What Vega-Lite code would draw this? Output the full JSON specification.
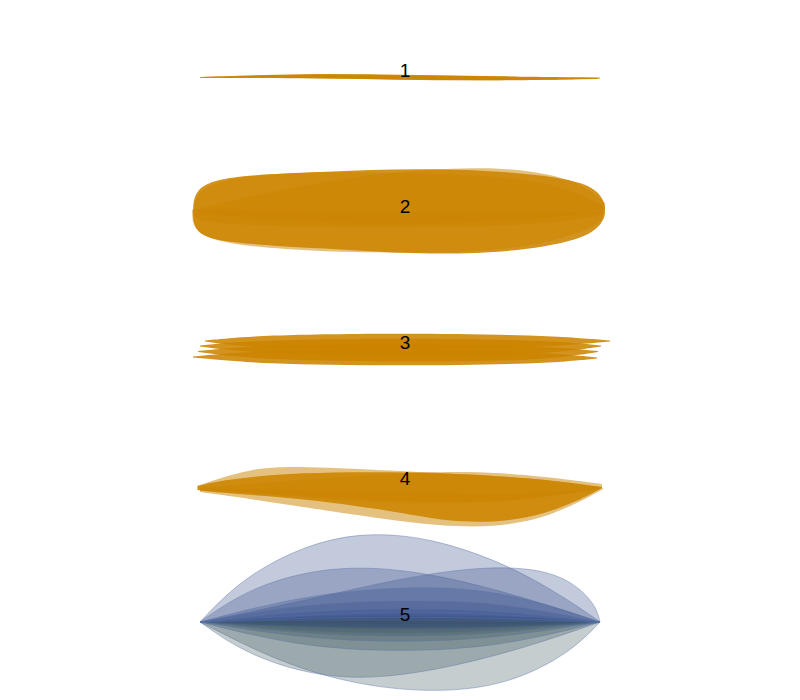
{
  "$schema": "https://vega.github.io/schema/vega-lite/v6.json",
  "autosize": {"type": "fit", "contains": "padding"},
  "width": 800,
  "height": 700,
  "padding": 0,
  "background": "white",
  "config": {"view": {"stroke": null}},
  "datasets": {
    "halo": [
      {"s": "2b", "x": -6, "t": 210, "b": 214},
      {"s": "2b", "x": -4, "t": 186, "b": 222},
      {"s": "2b", "x": 60, "t": 172, "b": 226},
      {"s": "2b", "x": 200, "t": 172, "b": 228},
      {"s": "2b", "x": 350, "t": 178, "b": 225},
      {"s": "2b", "x": 403, "t": 206, "b": 214},
      {"s": "2c", "x": 0, "t": 208, "b": 214},
      {"s": "2c", "x": 150, "t": 174, "b": 225},
      {"s": "2c", "x": 300, "t": 164, "b": 222},
      {"s": "2c", "x": 380, "t": 180, "b": 215},
      {"s": "2c", "x": 405, "t": 203, "b": 210},
      {"s": "2d", "x": -8, "t": 210, "b": 212},
      {"s": "2d", "x": -6, "t": 208, "b": 240},
      {"s": "2d", "x": 80, "t": 212, "b": 250},
      {"s": "2d", "x": 200, "t": 212, "b": 254},
      {"s": "2d", "x": 330, "t": 214, "b": 250},
      {"s": "2d", "x": 400, "t": 212, "b": 226},
      {"s": "2d", "x": 403, "t": 211, "b": 216},
      {"s": "4b", "x": -3, "t": 486, "b": 490},
      {"s": "4b", "x": 50, "t": 468, "b": 492},
      {"s": "4b", "x": 100, "t": 466, "b": 497},
      {"s": "4b", "x": 200, "t": 471, "b": 505},
      {"s": "4b", "x": 330, "t": 477, "b": 500},
      {"s": "4b", "x": 400, "t": 487, "b": 489},
      {"s": "4c", "x": 0, "t": 489, "b": 492},
      {"s": "4c", "x": 100, "t": 490, "b": 506},
      {"s": "4c", "x": 250, "t": 494, "b": 530},
      {"s": "4c", "x": 330, "t": 495, "b": 524},
      {"s": "4c", "x": 380, "t": 490, "b": 502},
      {"s": "4c", "x": 403, "t": 488, "b": 489},
      {"s": "4d", "x": 0, "t": 488, "b": 491},
      {"s": "4d", "x": 200, "t": 472, "b": 500},
      {"s": "4d", "x": 300, "t": 471, "b": 505},
      {"s": "4d", "x": 402, "t": 484, "b": 488}
    ],
    "core": [
      {"s": "1a", "x": 0, "t": 77, "b": 78},
      {"s": "1a", "x": 100, "t": 73.5, "b": 78},
      {"s": "1a", "x": 200, "t": 74.5, "b": 79.5},
      {"s": "1a", "x": 300, "t": 76.5, "b": 81},
      {"s": "1a", "x": 400, "t": 77.5, "b": 78.5},
      {"s": "1b", "x": 2, "t": 77, "b": 77.8},
      {"s": "1b", "x": 100, "t": 74.5, "b": 77.5},
      {"s": "1b", "x": 200, "t": 75, "b": 80},
      {"s": "1b", "x": 300, "t": 76.5, "b": 80.5},
      {"s": "1b", "x": 398, "t": 78, "b": 79},

      {"s": "2a", "x": -7, "t": 211, "b": 213},
      {"s": "2a", "x": -6, "t": 190, "b": 232},
      {"s": "2a", "x": 20, "t": 176, "b": 243},
      {"s": "2a", "x": 120, "t": 172, "b": 248},
      {"s": "2a", "x": 220, "t": 168, "b": 255},
      {"s": "2a", "x": 320, "t": 172, "b": 252},
      {"s": "2a", "x": 390, "t": 182, "b": 238},
      {"s": "2a", "x": 404, "t": 200, "b": 220},
      {"s": "2a", "x": 405, "t": 208, "b": 213},

      {"s": "3a", "x": 5, "t": 340.5, "b": 341.5},
      {"s": "3a", "x": 60, "t": 335, "b": 349},
      {"s": "3a", "x": 200, "t": 333, "b": 350},
      {"s": "3a", "x": 340, "t": 335, "b": 348},
      {"s": "3a", "x": 410, "t": 340.5, "b": 341.5},
      {"s": "3b", "x": 0, "t": 345.5, "b": 346.5},
      {"s": "3b", "x": 60, "t": 340, "b": 354},
      {"s": "3b", "x": 200, "t": 338, "b": 356},
      {"s": "3b", "x": 340, "t": 340, "b": 355},
      {"s": "3b", "x": 401, "t": 345.5, "b": 346.5},
      {"s": "3c", "x": -2, "t": 351, "b": 352},
      {"s": "3c", "x": 60, "t": 345, "b": 360},
      {"s": "3c", "x": 200, "t": 343, "b": 362},
      {"s": "3c", "x": 340, "t": 346, "b": 361},
      {"s": "3c", "x": 398, "t": 351, "b": 352},
      {"s": "3d", "x": -7, "t": 356.5, "b": 357.5},
      {"s": "3d", "x": 60, "t": 350, "b": 364},
      {"s": "3d", "x": 200, "t": 350, "b": 366},
      {"s": "3d", "x": 340, "t": 352, "b": 364},
      {"s": "3d", "x": 397, "t": 357.5, "b": 358.5},

      {"s": "4a", "x": -2, "t": 486, "b": 490},
      {"s": "4a", "x": 20, "t": 480, "b": 493},
      {"s": "4a", "x": 100, "t": 472, "b": 498},
      {"s": "4a", "x": 200, "t": 472, "b": 512},
      {"s": "4a", "x": 260, "t": 474, "b": 524},
      {"s": "4a", "x": 330, "t": 478, "b": 520},
      {"s": "4a", "x": 380, "t": 484, "b": 500},
      {"s": "4a", "x": 402, "t": 487, "b": 488}
    ],
    "lenses": [
      {"s": "b1", "k": "blue", "x": 0, "t": 622, "b": 622},
      {"s": "b1", "k": "blue", "x": 40, "t": 580, "b": 624},
      {"s": "b1", "k": "blue", "x": 100, "t": 547, "b": 626},
      {"s": "b1", "k": "blue", "x": 160, "t": 532, "b": 628},
      {"s": "b1", "k": "blue", "x": 230, "t": 537, "b": 628},
      {"s": "b1", "k": "blue", "x": 310, "t": 565, "b": 626},
      {"s": "b1", "k": "blue", "x": 370, "t": 601, "b": 624},
      {"s": "b1", "k": "blue", "x": 400, "t": 622, "b": 622},
      {"s": "g1", "k": "gray", "x": 0, "t": 622, "b": 622},
      {"s": "g1", "k": "gray", "x": 80, "t": 618, "b": 663},
      {"s": "g1", "k": "gray", "x": 160, "t": 616, "b": 686},
      {"s": "g1", "k": "gray", "x": 240, "t": 616, "b": 693},
      {"s": "g1", "k": "gray", "x": 310, "t": 617, "b": 684},
      {"s": "g1", "k": "gray", "x": 370, "t": 619, "b": 653},
      {"s": "g1", "k": "gray", "x": 400, "t": 622, "b": 622},
      {"s": "b2", "k": "blue", "x": 0, "t": 622, "b": 622},
      {"s": "b2", "k": "blue", "x": 50, "t": 587, "b": 624},
      {"s": "b2", "k": "blue", "x": 130, "t": 565, "b": 626},
      {"s": "b2", "k": "blue", "x": 220, "t": 570, "b": 626},
      {"s": "b2", "k": "blue", "x": 320, "t": 596, "b": 625},
      {"s": "b2", "k": "blue", "x": 400, "t": 622, "b": 622},
      {"s": "b3", "k": "blue", "x": 0, "t": 622, "b": 622},
      {"s": "b3", "k": "blue", "x": 100, "t": 602, "b": 625},
      {"s": "b3", "k": "blue", "x": 200, "t": 578, "b": 627},
      {"s": "b3", "k": "blue", "x": 290, "t": 565, "b": 626},
      {"s": "b3", "k": "blue", "x": 360, "t": 571, "b": 625},
      {"s": "b3", "k": "blue", "x": 395, "t": 602, "b": 623},
      {"s": "b3", "k": "blue", "x": 400, "t": 622, "b": 622},
      {"s": "g2", "k": "gray", "x": 0, "t": 622, "b": 622},
      {"s": "g2", "k": "gray", "x": 50, "t": 619, "b": 657},
      {"s": "g2", "k": "gray", "x": 130, "t": 618, "b": 680},
      {"s": "g2", "k": "gray", "x": 210, "t": 618, "b": 676},
      {"s": "g2", "k": "gray", "x": 310, "t": 619, "b": 653},
      {"s": "g2", "k": "gray", "x": 400, "t": 622, "b": 622},
      {"s": "b4", "k": "blue", "x": 0, "t": 622, "b": 622},
      {"s": "b4", "k": "blue", "x": 100, "t": 596, "b": 624},
      {"s": "b4", "k": "blue", "x": 200, "t": 586, "b": 626},
      {"s": "b4", "k": "blue", "x": 300, "t": 589, "b": 625},
      {"s": "b4", "k": "blue", "x": 400, "t": 622, "b": 622},
      {"s": "g3", "k": "gray", "x": 0, "t": 622, "b": 622},
      {"s": "g3", "k": "gray", "x": 100, "t": 619, "b": 647},
      {"s": "g3", "k": "gray", "x": 200, "t": 618, "b": 652},
      {"s": "g3", "k": "gray", "x": 300, "t": 619, "b": 647},
      {"s": "g3", "k": "gray", "x": 400, "t": 622, "b": 622},
      {"s": "b5", "k": "blue", "x": 0, "t": 622, "b": 622},
      {"s": "b5", "k": "blue", "x": 100, "t": 604, "b": 624},
      {"s": "b5", "k": "blue", "x": 200, "t": 600, "b": 625},
      {"s": "b5", "k": "blue", "x": 300, "t": 602, "b": 625},
      {"s": "b5", "k": "blue", "x": 400, "t": 622, "b": 622},
      {"s": "g4", "k": "gray", "x": 0, "t": 622, "b": 622},
      {"s": "g4", "k": "gray", "x": 100, "t": 620, "b": 638},
      {"s": "g4", "k": "gray", "x": 200, "t": 619, "b": 643},
      {"s": "g4", "k": "gray", "x": 300, "t": 620, "b": 638},
      {"s": "g4", "k": "gray", "x": 400, "t": 622, "b": 622},
      {"s": "b6", "k": "blue", "x": 0, "t": 622, "b": 622},
      {"s": "b6", "k": "blue", "x": 100, "t": 611, "b": 626},
      {"s": "b6", "k": "blue", "x": 200, "t": 608, "b": 628},
      {"s": "b6", "k": "blue", "x": 300, "t": 610, "b": 627},
      {"s": "b6", "k": "blue", "x": 400, "t": 622, "b": 622},
      {"s": "g5", "k": "gray", "x": 0, "t": 622, "b": 622},
      {"s": "g5", "k": "gray", "x": 100, "t": 620, "b": 631},
      {"s": "g5", "k": "gray", "x": 200, "t": 620, "b": 634},
      {"s": "g5", "k": "gray", "x": 300, "t": 621, "b": 631},
      {"s": "g5", "k": "gray", "x": 400, "t": 622, "b": 622},
      {"s": "b7", "k": "blue", "x": 0, "t": 622, "b": 622},
      {"s": "b7", "k": "blue", "x": 100, "t": 615, "b": 628},
      {"s": "b7", "k": "blue", "x": 200, "t": 612, "b": 630},
      {"s": "b7", "k": "blue", "x": 300, "t": 614, "b": 629},
      {"s": "b7", "k": "blue", "x": 400, "t": 622, "b": 622},
      {"s": "g6", "k": "gray", "x": 0, "t": 622, "b": 622},
      {"s": "g6", "k": "gray", "x": 100, "t": 618, "b": 634},
      {"s": "g6", "k": "gray", "x": 200, "t": 617, "b": 637},
      {"s": "g6", "k": "gray", "x": 300, "t": 618, "b": 634},
      {"s": "g6", "k": "gray", "x": 400, "t": 622, "b": 622}
    ],
    "labels": [
      {"label": "1", "x": 205, "y": 71},
      {"label": "2", "x": 205, "y": 207},
      {"label": "3", "x": 205, "y": 343},
      {"label": "4", "x": 205, "y": 479},
      {"label": "5", "x": 205, "y": 615}
    ]
  },
  "layer": [
    {
      "data": {"name": "halo"},
      "mark": {"type": "area", "interpolate": "basis", "color": "#cc8400", "opacity": 0.5},
      "encoding": {
        "x": {"field": "x", "type": "quantitative", "scale": {"domain": [-200, 600]}, "axis": null},
        "y": {"field": "t", "type": "quantitative", "scale": {"domain": [0, 700], "reverse": true}, "axis": null},
        "y2": {"field": "b"},
        "detail": {"field": "s", "type": "nominal"}
      }
    },
    {
      "data": {"name": "core"},
      "mark": {"type": "area", "interpolate": "basis", "color": "#cc8400", "opacity": 0.88},
      "encoding": {
        "x": {"field": "x", "type": "quantitative", "scale": {"domain": [-200, 600]}, "axis": null},
        "y": {"field": "t", "type": "quantitative", "scale": {"domain": [0, 700], "reverse": true}, "axis": null},
        "y2": {"field": "b"},
        "detail": {"field": "s", "type": "nominal"}
      }
    },
    {
      "data": {"name": "lenses"},
      "mark": {"type": "area", "interpolate": "basis", "fillOpacity": 0.3, "stroke": "#5a72a8", "strokeWidth": 0.8, "strokeOpacity": 0.55},
      "encoding": {
        "x": {"field": "x", "type": "quantitative", "scale": {"domain": [-200, 600]}, "axis": null},
        "y": {"field": "t", "type": "quantitative", "scale": {"domain": [0, 700], "reverse": true}, "axis": null},
        "y2": {"field": "b"},
        "detail": {"field": "s", "type": "nominal"},
        "color": {"field": "k", "type": "nominal", "scale": {"domain": ["blue", "gray"], "range": ["#374e8a", "#3e585f"]}, "legend": null}
      }
    },
    {
      "data": {"name": "labels"},
      "mark": {"type": "text", "font": "Liberation Sans", "fontSize": 19, "color": "black", "baseline": "middle", "align": "center"},
      "encoding": {
        "x": {"field": "x", "type": "quantitative", "scale": {"domain": [-200, 600]}, "axis": null},
        "y": {"field": "y", "type": "quantitative", "scale": {"domain": [0, 700], "reverse": true}, "axis": null},
        "text": {"field": "label"}
      }
    }
  ]
}
